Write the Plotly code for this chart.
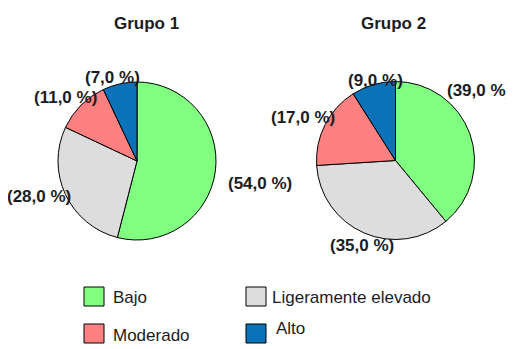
import plotly.graph_objects as go

# ---- data ----
categories = ["Bajo", "Ligeramente elevado", "Moderado", "Alto"]
grupo1 = [54.0, 28.0, 11.0, 7.0]
grupo2 = [39.0, 35.0, 17.0, 9.0]
titles = ["Grupo 1", "Grupo 2"]
colors = ["#80FF80", "#DDDDDD", "#FF8080", "#0A72B8"]

# page body has an 8px default margin: the figure starts at (8, 8) in the window
OFF = 8
W, H = 514 - OFF, 349 - OFF
FONT = "Liberation Sans, Arial, sans-serif"
TXT = "#1c1c24"

def px(x):
    return (x - OFF) / W

def py(y):
    return 1 - (y - OFF) / H

# pie geometry (window pixel centres and radius)
pies = [
    dict(values=grupo1, cx=137, cy=161, r=79, title_x=146.5,
         label_pos=[(260, 183.5), (39, 197), (65, 97), (112, 77)]),
    dict(values=grupo2, cx=395.5, cy=160.5, r=79, title_x=393,
         label_pos=[(479, 90), (362, 245), (303, 118), (375, 80)]),
]

def fmt(v):
    return "(" + f"{v:.1f}".replace(".", ",") + " %)"

fig = go.Figure()
annotations = []
for i, p in enumerate(pies):
    fig.add_trace(go.Pie(
        labels=categories,
        values=p["values"],
        sort=False,
        direction="clockwise",
        rotation=0,
        textinfo="none",
        hoverinfo="skip",
        showlegend=False,
        marker=dict(colors=colors, line=dict(color="#000000", width=1)),
        domain=dict(x=[px(p["cx"] - p["r"]), px(p["cx"] + p["r"])],
                    y=[py(p["cy"] + p["r"]), py(p["cy"] - p["r"])]),
    ))
    annotations.append(dict(
        x=px(p["title_x"]), y=py(24), xref="paper", yref="paper",
        text="<b>" + titles[i] + "</b>", showarrow=False,
        xanchor="center", yanchor="middle",
        font=dict(family=FONT, size=17, color=TXT)))
    for v, (lx, ly) in zip(p["values"], p["label_pos"]):
        annotations.append(dict(
            x=px(lx), y=py(ly), xref="paper", yref="paper",
            text="<b>" + fmt(v) + "</b>", showarrow=False,
            xanchor="center", yanchor="middle",
            font=dict(family=FONT, size=17, color=TXT)))

# ---- custom legend ----
legend_layout = [
    # square x0, y0, text x, text y
    (84, 287, 111, 297),
    (246, 287, 270, 297),
    (84, 324, 111, 335),
    (246, 324, 274, 328),
]
shapes = []
for cat, col, (sx, sy, tx, ty) in zip(categories, colors, legend_layout):
    shapes.append(dict(type="rect", xref="paper", yref="paper",
                       x0=px(sx), x1=px(sx + 20), y0=py(sy + 19), y1=py(sy),
                       fillcolor=col, line=dict(color="#000000", width=1)))
    annotations.append(dict(
        x=px(tx), y=py(ty), xref="paper", yref="paper", text=cat,
        showarrow=False, xanchor="left", yanchor="middle",
        font=dict(family=FONT, size=17, color=TXT)))

fig.update_layout(
    width=W, height=H,
    margin=dict(l=0, r=0, t=0, b=0),
    paper_bgcolor="white", plot_bgcolor="white",
    annotations=annotations, shapes=shapes,
    showlegend=False,
)

fig.write_html("out.html")
